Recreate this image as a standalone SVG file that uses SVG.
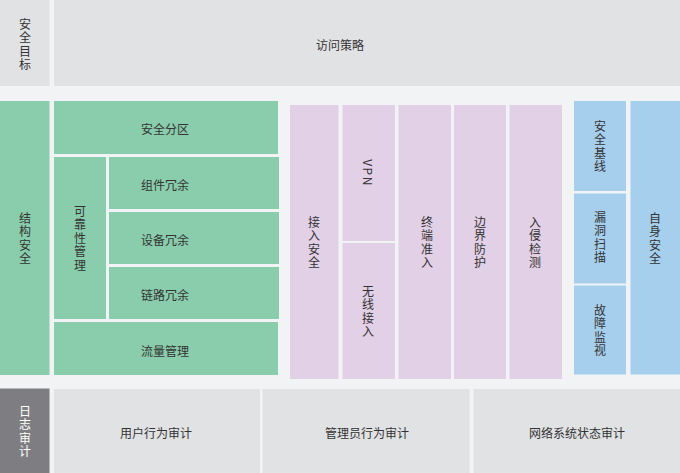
<svg xmlns="http://www.w3.org/2000/svg" width="680" height="473" viewBox="0 0 680 473">
<style>
text{font-family:"Noto Sans CJK SC","Liberation Sans",sans-serif;font-size:12px;fill:#333;text-anchor:middle;dominant-baseline:central}
.v{writing-mode:vertical-rl;letter-spacing:1.5px}
.g{fill:#e1e2e4}
.gr{fill:#89cdac}
.p{fill:#e2d0e6}
.b{fill:#a6cfee}
.d{fill:#7e7e82}
.w{fill:#fff}
</style>
<rect width="680" height="473" fill="#f2f3f5"/>
<g id="n-goal"><rect class="g" x="0" y="0" width="49.5" height="86"/><text class="v" x="25" y="45">安全目标</text></g>
<g id="n-policy"><rect class="g" x="54" y="0" width="626" height="86"/><text x="340" y="44">访问策略</text></g>

<g id="n-struct"><rect class="gr" x="0" y="101" width="49.5" height="274"/><text class="v" x="25" y="239">结构安全</text></g>
<g id="n-zone"><rect class="gr" x="54" y="101" width="224" height="53"/><text x="165" y="128">安全分区</text></g>
<g id="n-rel"><rect class="gr" x="54" y="157" width="52" height="162"/><text class="v" x="80" y="239">可靠性管理</text></g>
<g id="n-comp"><rect class="gr" x="109" y="157" width="170" height="52"/><text x="165" y="184">组件冗余</text></g>
<g id="n-dev"><rect class="gr" x="109" y="212" width="170" height="52"/><text x="165" y="239">设备冗余</text></g>
<g id="n-link"><rect class="gr" x="109" y="267" width="170" height="52"/><text x="165" y="294">链路冗余</text></g>
<g id="n-flow"><rect class="gr" x="54" y="322" width="224" height="53"/><text x="165" y="350">流量管理</text></g>

<g id="n-access"><rect class="p" x="290" y="105" width="48.5" height="274"/><text class="v" x="314" y="243">接入安全</text></g>
<g id="n-vpn"><rect class="p" x="342.5" y="105" width="52.5" height="136"/><text class="v" x="368" y="173">VPN</text></g>
<g id="n-wifi"><rect class="p" x="342.5" y="243" width="52.5" height="136"/><text class="v" x="368" y="312">无线接入</text></g>
<g id="n-nac"><rect class="p" x="398.5" y="105" width="52.5" height="274"/><text class="v" x="427" y="243">终端准入</text></g>
<g id="n-border"><rect class="p" x="454" y="105" width="52" height="274"/><text class="v" x="480" y="243">边界防护</text></g>
<g id="n-ids"><rect class="p" x="509.5" y="105" width="52.5" height="274"/><text class="v" x="535" y="243">入侵检测</text></g>

<g id="n-base"><rect class="b" x="574" y="101" width="52" height="90"/><text class="v" x="600" y="147">安全基线</text></g>
<g id="n-scan"><rect class="b" x="574" y="193.5" width="52" height="90"/><text class="v" x="600" y="238">漏洞扫描</text></g>
<g id="n-mon"><rect class="b" x="574" y="285.5" width="52" height="89"/><text class="v" x="600" y="331">故障监视</text></g>
<g id="n-self"><rect class="b" x="630.5" y="101" width="49.5" height="273.5"/><text class="v" x="655" y="239">自身安全</text></g>

<g id="n-log"><rect class="d" x="0" y="388.5" width="49.5" height="84.5"/><text class="v w" x="25" y="432">日志审计</text></g>
<g id="n-user"><rect class="g" x="54" y="389" width="206" height="84"/><text x="156" y="432">用户行为审计</text></g>
<g id="n-admin"><rect class="g" x="262.5" y="389" width="207" height="84"/><text x="367" y="432">管理员行为审计</text></g>
<g id="n-net"><rect class="g" x="473.5" y="389" width="206.5" height="84"/><text x="577" y="432">网络系统状态审计</text></g>
<g id="connectors"/>
</svg>
